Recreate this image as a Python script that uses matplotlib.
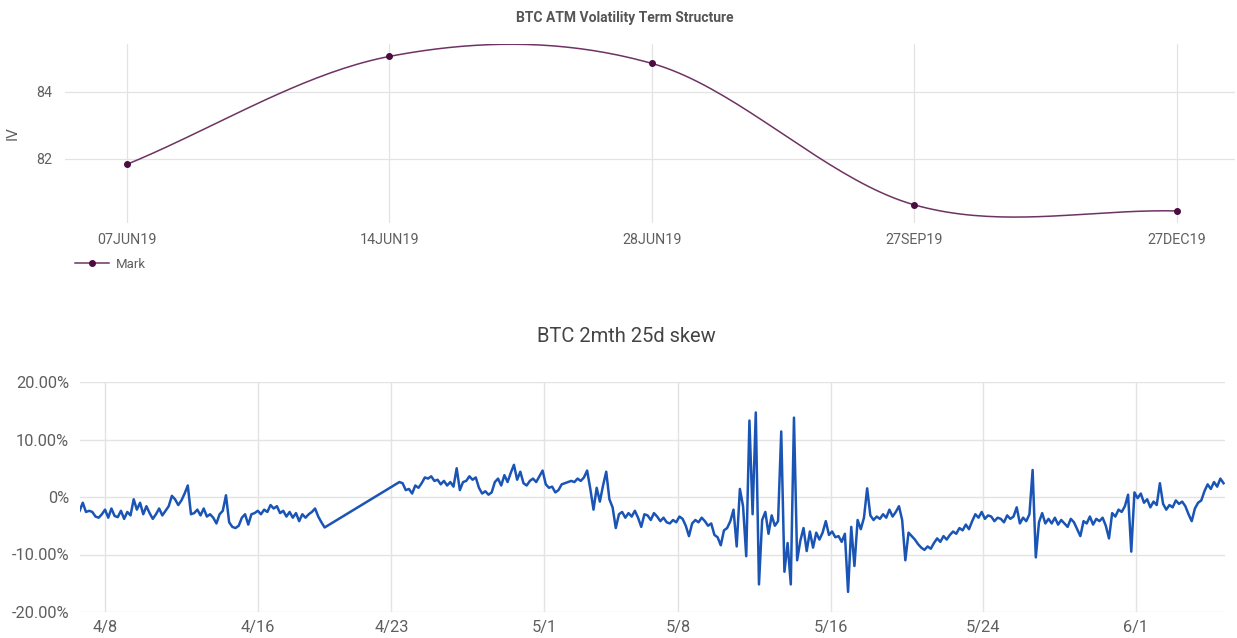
import numpy as np
import pandas as pd
import matplotlib
matplotlib.use("Agg")
import matplotlib.pyplot as plt
import matplotlib.dates as mdates
from matplotlib.ticker import FuncFormatter

plt.rcParams["font.family"] = ["Roboto", "DejaVu Sans"]

# --- top chart: ATM vol term structure ---
expiries = ["07JUN19", "14JUN19", "28JUN19", "27SEP19", "27DEC19"]
mark_iv = [81.84, 85.06, 84.85, 80.63, 80.45]

# --- bottom chart: 2mth 25d skew, 4-hourly readings (%), two stretches with a data gap ---
skew_start_1 = "2019-04-06 16:00"
skew_1 = [
    -2.4, -1.0, -2.6, -2.4, -2.6, -3.4,
    -3.6, -3.0, -2.2, -3.6, -2.0, -3.3,
    -3.5, -2.4, -3.8, -2.6, -3.2, -0.4,
    -2.2, -1.0, -3.0, -1.6, -2.8, -3.8,
    -3.0, -2.0, -3.2, -2.4, -1.6, 0.2,
    -0.4, -1.4, -0.6, 0.6, 2.0, -3.0,
    -2.8, -2.2, -3.2, -2.0, -3.4, -3.0,
    -3.6, -4.6, -3.0, -2.4, 0.3, -4.4,
    -5.2, -5.4, -5.0, -3.6, -3.0, -4.8,
    -3.0, -2.8, -2.4, -3.0, -2.2, -2.6,
    -1.4, -2.0, -1.6, -2.8, -2.4, -3.4,
    -2.6, -3.6, -2.8, -4.2, -3.0, -3.6,
    -3.0, -2.6, -2.0, -3.4, -4.4, -5.3,
]
skew_start_2 = "2019-04-23 10:00"
skew_2 = [
    2.6, 2.4, 1.2, 1.4, 0.6, 2.0,
    1.6, 2.4, 3.4, 3.2, 3.6, 2.8,
    3.0, 2.2, 2.8, 2.0, 2.6, 1.8,
    5.0, 1.2, 2.6, 2.8, 3.6, 3.0,
    3.4, 1.6, 0.6, 1.0, 0.4, 0.8,
    2.6, 3.2, 2.0, 3.8, 2.6, 4.2,
    5.6, 3.0, 4.4, 2.4, 2.0, 2.8,
    3.2, 2.6, 3.6, 4.6, 2.2, 1.6,
    1.8, 0.8, 1.2, 2.2, 2.4, 2.6,
    2.8, 2.6, 3.2, 2.8, 3.4, 4.6,
    1.4, -2.2, 1.6, -0.8, 2.0, 4.4,
    -0.4, -1.8, -5.4, -3.0, -2.6, -3.6,
    -2.8, -3.4, -2.4, -3.6, -5.2, -3.0,
    -3.2, -4.0, -2.8, -3.4, -4.2, -3.6,
    -4.4, -4.6, -4.0, -4.4, -3.4, -3.8,
    -5.0, -6.8, -4.6, -4.0, -4.4, -3.6,
    -4.2, -5.0, -4.6, -6.6, -7.0, -8.4,
    -5.8, -5.4, -4.2, -2.2, -8.6, 1.4,
    -1.6, -10.3, 13.3, -3.0, 14.7, -15.2,
    -4.0, -2.6, -6.4, -3.2, -5.0, -4.2,
    11.4, -13.0, -8.0, -15.2, 13.8, -11.0,
    -7.6, -5.4, -9.4, -6.0, -8.8, -6.2,
    -7.4, -6.2, -4.2, -6.6, -6.0, -7.0,
    -6.8, -7.8, -6.4, -16.5, -5.2, -12.0,
    -4.0, -5.6, -3.6, 1.5, -3.2, -4.0,
    -3.4, -3.8, -3.0, -3.6, -2.2, -3.4,
    -2.6, -1.6, -4.0, -11.0, -6.2, -6.8,
    -7.4, -8.2, -8.8, -9.2, -8.6, -9.0,
    -8.0, -7.2, -7.8, -6.8, -7.4, -6.6,
    -6.0, -6.4, -5.4, -5.8, -4.8, -5.6,
    -4.2, -3.0, -3.6, -2.6, -3.8, -3.2,
    -3.4, -4.2, -3.6, -3.8, -4.4, -3.2,
    -3.8, -3.4, -1.8, -4.6, -3.6, -4.2,
    -3.0, 4.7, -10.5, -4.4, -2.8, -4.6,
    -3.8, -4.6, -3.6, -4.8, -4.0, -4.6,
    -5.2, -3.8, -4.4, -5.6, -6.8, -4.2,
    -4.6, -3.4, -4.8, -3.8, -4.2, -3.6,
    -5.0, -7.2, -2.8, -3.4, -2.2, -2.6,
    -1.6, 0.4, -9.5, 0.8, -0.2, 0.6,
    -1.0, -0.4, -1.8, -0.8, -1.4, 2.4,
    -1.2, -2.2, -1.4, -1.8, -0.6, -1.2,
    -0.8, -1.6, -3.0, -4.2, -2.0, -1.0,
    -0.6, 1.0, 2.2, 1.4, 2.6, 1.8,
    3.2, 2.4,
]
skew_ticks = ["2019-04-08", "2019-04-16", "2019-04-23", "2019-05-01",
              "2019-05-08", "2019-05-16", "2019-05-24", "2019-06-01"]


def spline(y, n=40):
    """Cardinal (Catmull-Rom) curve through the points, like the web chart draws it."""
    y = np.asarray(y, dtype=float)
    m = np.empty_like(y)
    m[1:-1] = (y[2:] - y[:-2]) / 2
    m[0] = y[1] - y[0]
    m[-1] = y[-1] - y[-2]
    xs, ys = [], []
    for i in range(len(y) - 1):
        t = np.linspace(0, 1, n, endpoint=False)
        h00 = 2 * t**3 - 3 * t**2 + 1
        h10 = t**3 - 2 * t**2 + t
        h01 = -2 * t**3 + 3 * t**2
        h11 = t**3 - t**2
        xs.append(i + t)
        ys.append(h00 * y[i] + h10 * m[i] + h01 * y[i + 1] + h11 * m[i + 1])
    xs.append([len(y) - 1])
    ys.append([y[-1]])
    return np.concatenate(xs), np.concatenate(ys)


W, H = 1237, 638
fig = plt.figure(figsize=(W / 100, H / 100), dpi=100)


def box(left, top, right, bottom):
    return [left / W, 1 - bottom / H, (right - left) / W, (bottom - top) / H]


grey = "#5f5f5f"
grid = "#e3e3e3"

# top chart
ax1 = fig.add_axes(box(65, 44, 1235, 223))
cx = np.arange(len(expiries))
sx, sy = spline(mark_iv)
ax1.plot(sx, sy, color="#6e3363", lw=1.1, zorder=3)
ax1.plot(cx, mark_iv, "o", color="#4b0c40", ms=4, zorder=4)
ax1.plot([], [], "-o", color="#6e3363", mfc="#4b0c40", mec="#4b0c40", ms=4, lw=1.1, label="Mark")
ax1.set_xlim(-0.236, 4.221)
ax1.set_ylim(80.09, 85.43)
ax1.set_xticks(cx, expiries)
ax1.set_yticks([82, 84])
ax1.grid(True, color=grid, lw=0.9)
ax1.set_axisbelow(True)
for s in ax1.spines.values():
    s.set_visible(False)
ax1.tick_params(length=0, labelsize=10.3, colors=grey, pad=7)
ax1.tick_params(axis="y", pad=9)
ax1.set_ylabel("IV", fontsize=11, color=grey, labelpad=12)
fig.text(625 / W, 1 - 18 / H, "BTC ATM Volatility Term Structure", fontsize=10,
         fontweight="bold", color="#555555", ha="center", va="center")
ax1.legend(loc="upper left", bbox_to_anchor=(63 / W, 1 - 246 / H), bbox_transform=fig.transFigure,
           frameon=False, fontsize=9.5, labelcolor=grey, handlelength=2.6, handletextpad=0.5)

# bottom chart
ax2 = fig.add_axes(box(80, 382, 1225, 612))
t1 = pd.date_range(skew_start_1, periods=len(skew_1), freq="4h")
t2 = pd.date_range(skew_start_2, periods=len(skew_2), freq="4h")
times = t1.append(t2)
values = np.array(skew_1 + skew_2)
ax2.plot(times, values, color="#1a55b5", lw=1.8, solid_joinstyle="round")
ax2.set_xlim(pd.Timestamp("2019-04-06 16:30"), pd.Timestamp("2019-06-05 15:50"))
ax2.set_ylim(-20, 20)
ax2.set_yticks([-20, -10, 0, 10, 20])
ax2.yaxis.set_major_formatter(FuncFormatter(lambda v, _: "0%" if v == 0 else f"{v:.2f}%"))
ax2.set_xticks(pd.to_datetime(skew_ticks))
ax2.xaxis.set_major_formatter(FuncFormatter(
    lambda v, _: f"{mdates.num2date(v).month}/{mdates.num2date(v).day}"))
ax2.grid(True, color=grid, lw=1.0)
ax2.set_axisbelow(True)
for s in ax2.spines.values():
    s.set_visible(False)
ax2.tick_params(length=0, labelsize=11.8, colors=grey)
ax2.tick_params(axis="y", pad=8)
ax2.tick_params(axis="x", pad=6)
fig.text(626 / W, 1 - 337 / H, "BTC 2mth 25d skew", fontsize=14.5, color="#444444",
         ha="center", va="center")

fig.savefig("out.png", dpi=100)
